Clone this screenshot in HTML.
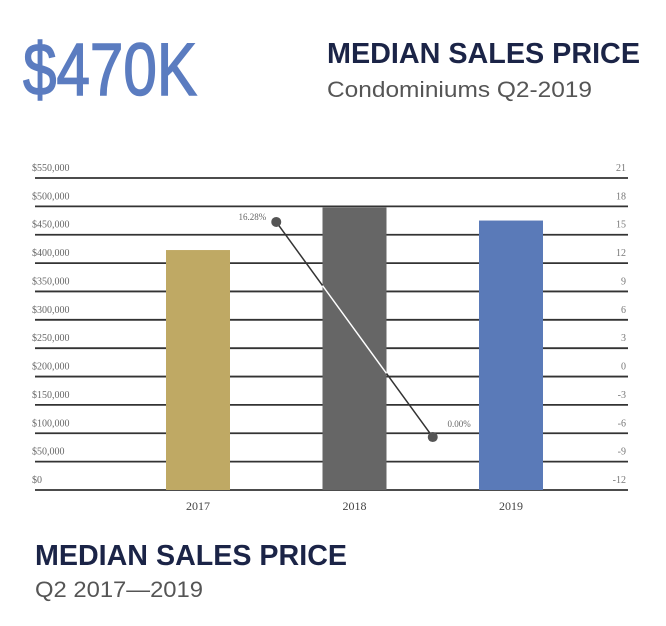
<!DOCTYPE html>
<html><head><meta charset="utf-8"><style>
html,body{margin:0;padding:0;background:#fff;}
svg{display:block;font-family:"Liberation Sans",sans-serif;}
</style></head><body>
<svg id="chart" width="666" height="626" viewBox="0 0 666 626">
<text x="23" y="95" font-size="74" fill="#5b7cc0" stroke="#5b7cc0" stroke-width="1.5" textLength="174" lengthAdjust="spacingAndGlyphs">$470K</text>
<text x="327" y="63" font-size="29" font-weight="bold" fill="#1b2447" textLength="313" lengthAdjust="spacingAndGlyphs">MEDIAN SALES PRICE</text>
<text x="327" y="97" font-size="22" fill="#555" textLength="265" lengthAdjust="spacingAndGlyphs">Condominiums Q2-2019</text>
<g id="plot"></g>
<text x="35" y="565" font-size="29" font-weight="bold" fill="#1b2447" textLength="312" lengthAdjust="spacingAndGlyphs">MEDIAN SALES PRICE</text>
<text x="35" y="597" font-size="22" fill="#555" textLength="168" lengthAdjust="spacingAndGlyphs">Q2 2017—2019</text>
</svg>
<script>
const categories = ["2017","2018","2019"];
const prices = [423000, 498000, 475000];
const leftTicks = [0,50000,100000,150000,200000,250000,300000,350000,400000,450000,500000,550000];
const rightTicks = [-12,-9,-6,-3,0,3,6,9,12,15,18,21];
const changes = [16.35, -6.4];
const changeLabels = ["16.28%","0.00%"];
const barColors = ["#bfa964","#666666","#5a7ab8"];

const NS="http://www.w3.org/2000/svg";
const g=document.getElementById('plot');
const y0=490, y1=178, xL=35, xR=628;
const yL=v=>y0-(v-0)/(550000)*(y0-y1);
const yR=v=>y0-(v+12)/33*(y0-y1);
const xC=i=>198+i*156.5;
function mk(t,a){const e=document.createElementNS(NS,t);for(const k in a)e.setAttribute(k,a[k]);g.appendChild(e);return e;}
leftTicks.forEach((v,i)=>{
  const y=yL(v);
  const l=mk('line',{x1:xL,x2:xR,y1:y,y2:y,stroke:'#333','stroke-width':1.8});
  
  
  const t=mk('text',{x:32,y:y-7,'font-size':10,fill:'#666','font-family':'Liberation Serif, serif'});
  t.textContent='$'+v.toLocaleString('en-US');
  
  
});
rightTicks.forEach(v=>{
  const t=mk('text',{x:626,y:yR(v)-7,'font-size':10,fill:'#777','text-anchor':'end','font-family':'Liberation Serif, serif'});
  t.textContent=v;
  
  
});
categories.forEach((c,i)=>{
  const top=yL(prices[i]);
  const r=mk('rect',{x:xC(i)-32,y:top,width:64,height:y0-top,fill:barColors[i]});
  
  
  const t=mk('text',{x:xC(i),y:510,'font-size':12,fill:'#444','text-anchor':'middle','font-family':'Liberation Serif, serif'});
  t.textContent=c;
  
  
});
const px=i=>(xC(i)+xC(i+1))/2;
const x1=px(0),yA=yR(changes[0]),x2=px(1),yB=yR(changes[1]);
const ln=mk('line',{x1:x1,y1:yA,x2:x2,y2:yB,stroke:'#333','stroke-width':1.5});


const bx1=xC(1)-32,bx2=xC(1)+32;
const f=x=>yA+(yB-yA)*(x-x1)/(x2-x1);
const ws=mk('line',{x1:bx1,y1:f(bx1),x2:bx2,y2:f(bx2),stroke:'#fff','stroke-width':1.5});


[[x1,yA],[x2,yB]].forEach((p,i)=>{
  const c=mk('circle',{cx:p[0],cy:p[1],r:5,fill:'#555'});
  
  
  const t=mk('text',{x:p[0]-10,y:p[1]-(i==0?2:10),'font-size':9,fill:'#666','text-anchor':'end','font-family':'Liberation Serif, serif'});
  if(i==1){t.setAttribute('x',p[0]+38);}
  t.textContent=changeLabels[i];
  
  
});
</script>
</body></html>
